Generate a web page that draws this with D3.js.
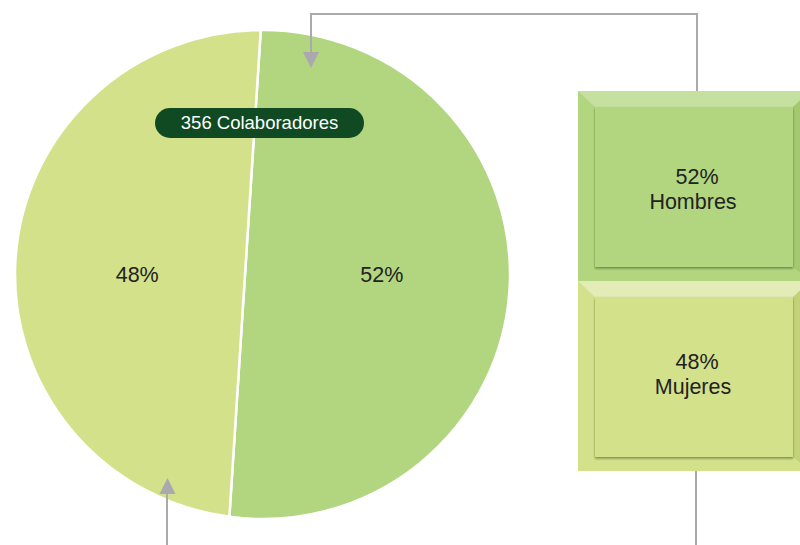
<!DOCTYPE html>
<html>
<head>
<meta charset="utf-8">
<script src="https://cdn.jsdelivr.net/npm/d3@7"></script>
<style>
  body { margin: 0; background: #fff; }
  svg { display: block; font-family: "Liberation Sans", Arial, sans-serif; }
</style>
</head>
<body>
<div id="chart"></div>
<script>
// data
const categories = ["Hombres", "Mujeres"];
const counts = [186, 170];           // 356 colaboradores -> 52% / 48%
const sliceColors = ["#b1d67f", "#d3e18a"];
const lightColors = ["#c6e19f", "#e3ebb6"];
const darkColors = ["#a3c86f", "#c3d278"];
const totalLabel = "Colaboradores";

const width = 800, height = 545;
const pieCfg = { cx: 262.5, cy: 274.5, rx: 247.5, ry: 244.5, start: -0.4 * Math.PI / 180 };
const boxCfg = { x: 578, w: 232, top: 91, bottom: 471, bevelTop: 16, bevelSide: 17, bevelBottom: 14 };
const grey = "#a9a9ae";

let svg = d3.select("#chart").append("svg")
    .attr("width", width)
    .attr("height", height);

let defs = svg.append("defs");
let f = defs.append("filter").attr("id", "shadow")
    .attr("x", "-5%").attr("y", "-5%").attr("width", "110%").attr("height", "115%");
f.append("feDropShadow")
    .attr("dx", 0).attr("dy", 1.5)
    .attr("stdDeviation", 1.3)
    .attr("flood-color", "#33400f")
    .attr("flood-opacity", 0.55);

let total = d3.sum(counts);
let data = categories.map((c, i) => ({ cat: c, count: counts[i], color: sliceColors[i] }));

// pie (slices closed with a chord, like the original)
let pie = d3.pie().sort(null)
    .value(d => d.count)
    .startAngle(pieCfg.start)
    .endAngle(pieCfg.start + 2 * Math.PI);
let arcs = pie(data);

let pieG = svg.append("g")
    .attr("transform", "translate(" + [pieCfg.cx, pieCfg.cy] + ") scale(1," + (pieCfg.ry / pieCfg.rx) + ")");

pieG.selectAll("path.slice")
    .data(arcs)
    .enter()
    .append("path")
    .attr("class", "slice")
    .attr("d", d => {
        let p = d3.path();
        p.arc(0, 0, pieCfg.rx, d.startAngle - Math.PI / 2, d.endAngle - Math.PI / 2);
        p.closePath();
        return p.toString();
    })
    .attr("fill", d => d.data.color)
    .attr("stroke", "#fff")
    .attr("stroke-width", 2.5)
    .attr("stroke-linejoin", "round");

svg.selectAll("text.pct")
    .data(arcs)
    .enter()
    .append("text")
    .attr("class", "pct")
    .attr("x", d => pieCfg.cx - 3 + Math.sin((d.startAngle + d.endAngle) / 2) * pieCfg.rx * 0.495)
    .attr("y", pieCfg.cy)
    .attr("dy", "0.35em")
    .attr("text-anchor", "middle")
    .style("font-size", "21.5px")
    .style("fill", "#222")
    .text(d => Math.round(d.data.count / total * 100) + "%");

// total pill
let pill = svg.append("g").attr("transform", "translate(" + [155, 108] + ")");
pill.append("rect")
    .attr("width", 209).attr("height", 30)
    .attr("rx", 15).attr("ry", 15)
    .attr("fill", "#104a23");
pill.append("text")
    .attr("x", 104.5).attr("y", 15)
    .attr("dy", "0.35em")
    .attr("text-anchor", "middle")
    .style("font-size", "18.5px")
    .style("fill", "#fff")
    .text(total + " " + totalLabel);

// connectors
let conn = svg.append("g");
conn.append("path")
    .attr("d", "M697," + boxCfg.top + "V14H311V53")
    .attr("fill", "none").attr("stroke", grey).attr("stroke-width", 2);
conn.append("path")
    .attr("d", "M303,52L319,52L311,68Z").attr("fill", grey);
conn.append("path")
    .attr("d", "M167,545V493")
    .attr("fill", "none").attr("stroke", grey).attr("stroke-width", 2);
conn.append("path")
    .attr("d", "M159.5,494L175.5,494L167.5,478Z").attr("fill", grey);
conn.append("path")
    .attr("d", "M696," + boxCfg.bottom + "V545")
    .attr("fill", "none").attr("stroke", grey).attr("stroke-width", 2);

// bevel boxes
let yBox = d3.scaleBand().domain(categories).range([boxCfg.top, boxCfg.bottom]);
let boxes = svg.selectAll("g.box")
    .data(data)
    .enter()
    .append("g")
    .attr("class", "box")
    .attr("transform", d => "translate(" + [boxCfg.x, yBox(d.cat)] + ")");

let bw = boxCfg.w, bh = yBox.bandwidth();
let bt = boxCfg.bevelTop, bs = boxCfg.bevelSide, bb = boxCfg.bevelBottom;

boxes.append("rect")
    .attr("width", bw).attr("height", bh)
    .attr("fill", d => d.color);
boxes.append("path")
    .attr("d", "M0,0H" + bw + "L" + (bw - bs) + "," + bt + "H" + bs + "Z")
    .attr("fill", (d, i) => lightColors[i]);
boxes.append("path")
    .attr("d", "M" + bw + ",0V" + bh + "L" + (bw - bs) + "," + (bh - bb) + "V" + bt + "Z")
    .attr("fill", (d, i) => darkColors[i]);
boxes.append("rect")
    .attr("x", bs).attr("y", bt)
    .attr("width", bw - 2 * bs).attr("height", bh - bt - bb)
    .attr("fill", d => d.color)
    .attr("filter", "url(#shadow)");

boxes.append("text")
    .attr("x", 119)
    .attr("y", (d, i) => i == 0 ? 93 : 88)
    .attr("text-anchor", "middle")
    .style("font-size", "21.5px")
    .style("fill", "#222")
    .text(d => Math.round(d.count / total * 100) + "%");
boxes.append("text")
    .attr("x", 115)
    .attr("y", (d, i) => i == 0 ? 118 : 113)
    .attr("text-anchor", "middle")
    .style("font-size", "21.5px")
    .style("fill", "#222")
    .text(d => d.cat);
</script>
</body>
</html>
